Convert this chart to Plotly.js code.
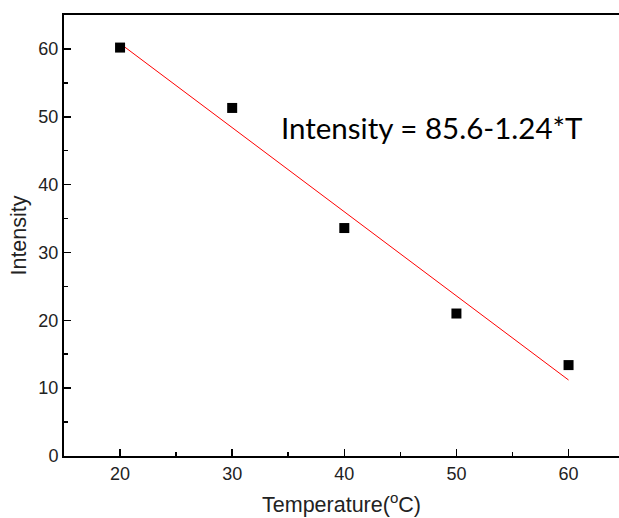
<!DOCTYPE html>
<html>
<head>
<meta charset="utf-8">
<script src="https://cdn.plot.ly/plotly-3.0.1.min.js"></script>
<style>html,body{margin:0;padding:0;background:#fff;}#chart{width:619px;height:518px;}</style>
</head>
<body>
<div id="chart"></div>
<script>
var temperature = [20, 30, 40, 50, 60];
var intensity = [60.2, 51.3, 33.6, 21.0, 13.4];
var fitX = [20, 60];
var fitY = [60.8, 11.2];
var equationText = 'Intensity = 85.6-1.24*T';

var data = [
  {x: fitX, y: fitY, mode: 'lines', type: 'scatter', line: {color: '#ff0000', width: 1}, hoverinfo: 'skip'},
  {x: temperature, y: intensity, mode: 'markers', type: 'scatter', marker: {symbol: 'square', size: 10, color: '#000'}}
];

var fam = 'Arial';
var axisFont = {family: fam, size: 18, color: '#222'};
var layout = {
  width: 619, height: 518,
  margin: {l: 64, r: 0, t: 15, b: 62},
  showlegend: false,
  paper_bgcolor: '#fff', plot_bgcolor: '#fff',
  xaxis: {
    range: [15, 64.5], tickvals: [20, 30, 40, 50, 60],
    ticks: 'inside', ticklen: 7, tickwidth: 1.5, tickcolor: '#000',
    minor: {tickvals: [25, 35, 45, 55], ticks: 'inside', ticklen: 4, tickwidth: 1.5, tickcolor: '#000'},
    showline: true, linecolor: '#000', linewidth: 2, mirror: true,
    showgrid: false, zeroline: false,
    tickfont: axisFont,
    title: {text: 'Temperature(<sup>o</sup>C)', font: {family: fam, size: 21.5, color: '#222'}, standoff: 14}
  },
  yaxis: {
    range: [0, 65], tickvals: [0, 10, 20, 30, 40, 50, 60],
    ticks: 'inside', ticklen: 7, tickwidth: 1.5, tickcolor: '#000',
    minor: {tickvals: [5, 15, 25, 35, 45, 55], ticks: 'inside', ticklen: 4, tickwidth: 1.5, tickcolor: '#000'},
    showline: true, linecolor: '#000', linewidth: 2, mirror: false,
    showgrid: false, zeroline: false,
    tickfont: axisFont,
    title: {text: 'Intensity', font: {family: fam, size: 21.5, color: '#222'}, standoff: 6}
  },
  annotations: [{
    xref: 'paper', yref: 'paper', showarrow: false,
    xanchor: 'center', yanchor: 'middle',
    x: (431 - 64) / (619 - 64), y: (456 - 127) / (456 - 15),
    text: equationText,
    font: {family: 'Lato, Open Sans, sans-serif', size: 29.5, color: '#000'}
  }]
};
Plotly.newPlot('chart', data, layout, {displayModeBar: false, staticPlot: true});
</script>
</body>
</html>
